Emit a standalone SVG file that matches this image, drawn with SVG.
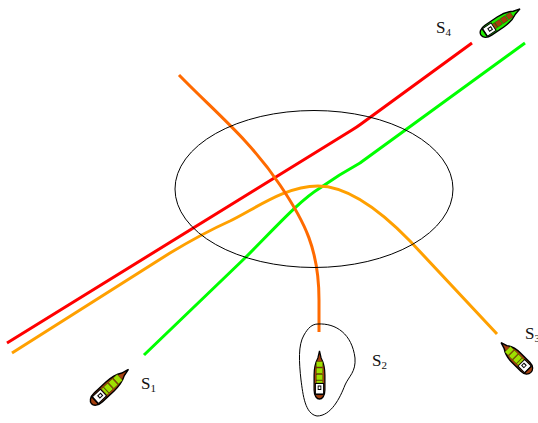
<svg xmlns="http://www.w3.org/2000/svg" width="538" height="423" viewBox="0 0 538 423">
<style>
.o{fill:none;stroke:#000;stroke-width:1}
.r{fill:none;stroke-width:3;stroke-linecap:butt;stroke-linejoin:round}
.t{font-family:"Liberation Serif",serif;font-size:17px;fill:#111}
.s{font-size:11px}
.hull{stroke:#000;stroke-width:1.400}
</style>
<defs>
<g id="ship">
<path class="hull" d="M0,-24 L1.800,-17 C4.800,-12 6,-6 6,0 L6,15 C6,21 3,24 0,24 C-3,24 -6,21 -6,15 L-6,0 C-6,-6 -4.800,-12 -1.800,-17 Z"/>
<rect x="-4.500" y="8.500" width="9" height="10.500" fill="#fff" stroke="#000" stroke-width="1"/>
<rect x="-2" y="10.500" width="4" height="4.500" fill="#000"/>
<rect x="-1" y="11.500" width="2" height="2.500" fill="#fff"/>
<path d="M-4.500,19.500 H4.500" stroke="#000" stroke-width="1.200" fill="none"/>
</g>
<g id="holds">
<rect x="-4" y="-13.500" width="8" height="5.500"/>
<rect x="-4" y="-7" width="8" height="5.500"/>
<rect x="-4" y="-.5" width="8" height="5.500"/>
<rect x="-4" y="5.500" width="8" height="2.500"/>
</g>
</defs>
<g id="connectors">
<path class="r" stroke="#ff0000" d="M7,343 L352,130 Q357,127 361,124 L472,43"/>
<path class="r" stroke="#00ff00" d="M144,355 L246,257 C275,228 300,200 320,188 Q340,174 360,163 L525,43"/>
<path class="r" stroke="#ffa000" d="M12,353 L170,253 C190,241 210,230 230,221 C255,209 285,186 318,186 C345,186 375,205 410,241 L497,334"/>
<path class="r" stroke="#ff6a00" d="M179,75 C215,112 250,140 280,185 C305,222 319,250 319,300 L319,332"/>
</g>
<g id="zone">
<ellipse class="o" cx="314" cy="189" rx="139" ry="78.500"/>
</g>
<g id="S1">
<use href="#ship" fill="#a5400f" transform="translate(110,386.500) rotate(47) scale(1,1.050)"/>
<use href="#holds" fill="#9fe000" stroke="#000" stroke-width=".3" transform="translate(110,386.500) rotate(47)"/>
<text class="t" x="141" y="389">S<tspan class="s" dy="3">1</tspan></text>
</g>
<g id="S2">
<path class="o" d="M318,324 C336,323 352,334 355,358 C356,372 349,376 345,385 C340,398 331,416 317,416 C305,414 303,395 301,380 C299,362 298,345 304,335 C308,328 312,324 318,324 Z"/>
<use href="#ship" fill="#a5400f" transform="translate(319.500,375) scale(.9,1)"/>
<use href="#holds" fill="#9fe000" stroke="#000" stroke-width=".3" transform="translate(319.500,375) scale(.8,1)"/>
<text class="t" x="372" y="366">S<tspan class="s" dy="3">2</tspan></text>
</g>
<g id="S3">
<use href="#ship" fill="#a5400f" transform="translate(516,357.500) rotate(-45) scale(1.050,.88)"/>
<use href="#holds" fill="#9fe000" stroke="#000" stroke-width=".3" transform="translate(516,357.500) rotate(-45) scale(1,.88)"/>
<text class="t" x="525" y="339">S<tspan class="s" dy="3">3</tspan></text>
</g>
<g id="S4">
<use href="#ship" fill="#22ee00" transform="translate(500.500,22) rotate(56) scale(1,.98)"/>
<use href="#holds" fill="#a5400f" stroke="#000" stroke-width=".3" transform="translate(500.500,22) rotate(56) scale(.7,1)"/>
<text class="t" x="436" y="33">S<tspan class="s" dy="3">4</tspan></text>
</g>
</svg>
